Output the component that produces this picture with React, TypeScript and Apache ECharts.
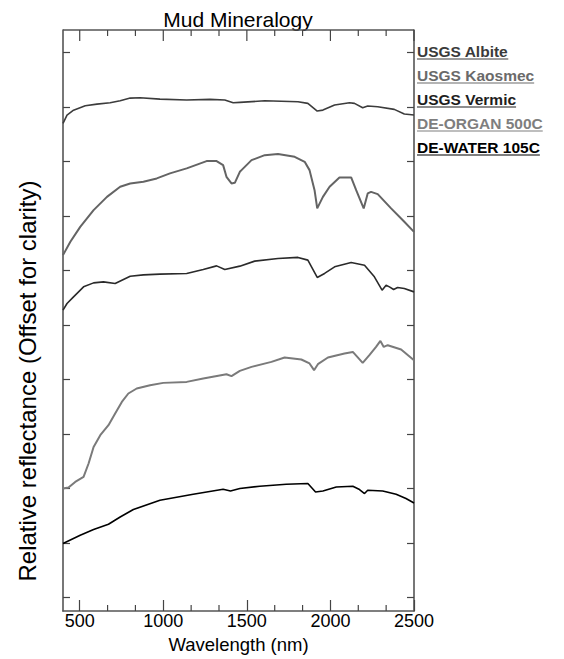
import React, { useEffect, useRef } from "react";
import * as echarts from "echarts";

const FONT = "'Liberation Sans', Arial, Helvetica, sans-serif";

const TITLE = "Mud Mineralogy";
const X_LABEL = "Wavelength (nm)";
const Y_LABEL = "Relative reflectance (Offset for clarity)";

const X_MIN = 400;
const X_MAX = 2500;
const X_TICKS = [500, 1000, 1500, 2000, 2500];
const X_MINOR_TICKS = [666.67, 833.33, 1166.67, 1333.33, 1666.67, 1833.33, 2166.67, 2333.33];
const Y_MIN = -0.246;
const Y_MAX = 10.41;
const Y_TICKS = [0, 1, 2, 3, 4, 5, 6, 7, 8, 9, 10];

const SERIES_NAMES = ["USGS Albite", "USGS Kaosmec", "USGS Vermic", "DE-ORGAN 500C", "DE-WATER 105C"];
const LINE_COLORS = ["#3c3c3c", "#646464", "#2a2a2a", "#7a7a7a", "#000000"];
const LEGEND_COLORS = ["#3a3a3a", "#6a6a6a", "#1e1e1e", "#7e7e7e", "#000000"];

// USGS Albite (offset spectrum)
const albiteWl = [400, 424, 463, 533, 603, 682, 742, 802, 861, 980, 1140, 1279, 1368, 1418, 1458, 1607, 1806, 1865, 1921, 1955, 2025, 2114, 2144, 2193, 2223, 2283, 2382, 2442, 2500];
const albiteR = [8.697, 8.848, 8.939, 9.02, 9.051, 9.075, 9.112, 9.161, 9.167, 9.143, 9.125, 9.138, 9.125, 9.075, 9.083, 9.112, 9.094, 9.064, 8.923, 8.941, 9.033, 9.075, 9.064, 8.983, 9.015, 9.002, 8.954, 8.868, 8.85];

// USGS Kaosmec
const kaosmecWl = [400, 444, 503, 583, 663, 742, 802, 881, 961, 1040, 1140, 1259, 1319, 1358, 1378, 1408, 1428, 1458, 1468, 1528, 1607, 1686, 1786, 1846, 1875, 1905, 1921, 1955, 1995, 2054, 2124, 2154, 2199, 2223, 2243, 2283, 2363, 2442, 2500];
const kaosmecR = [6.281, 6.525, 6.8, 7.106, 7.35, 7.534, 7.596, 7.626, 7.688, 7.78, 7.872, 8.006, 8.006, 7.932, 7.717, 7.596, 7.607, 7.809, 7.84, 8.023, 8.115, 8.134, 8.084, 7.993, 7.84, 7.473, 7.138, 7.35, 7.534, 7.706, 7.706, 7.473, 7.138, 7.413, 7.442, 7.4, 7.138, 6.892, 6.708];

// USGS Vermic
const vermicWl = [400, 424, 463, 523, 583, 642, 712, 802, 881, 980, 1140, 1239, 1319, 1368, 1458, 1547, 1686, 1806, 1865, 1921, 1965, 2025, 2124, 2204, 2263, 2309, 2333, 2353, 2378, 2402, 2442, 2500];
const vermicR = [5.272, 5.394, 5.516, 5.699, 5.772, 5.791, 5.761, 5.895, 5.919, 5.932, 5.945, 6.018, 6.084, 6.018, 6.079, 6.171, 6.22, 6.239, 6.189, 5.872, 5.945, 6.066, 6.147, 6.097, 5.883, 5.639, 5.73, 5.699, 5.651, 5.688, 5.67, 5.607];

// DE-ORGAN 500C
const organWl = [400, 433, 473, 523, 553, 583, 623, 672, 712, 752, 791, 841, 921, 1000, 1140, 1239, 1378, 1408, 1458, 1528, 1647, 1726, 1826, 1875, 1902, 1925, 1985, 2084, 2134, 2193, 2233, 2273, 2299, 2319, 2343, 2423, 2500];
const organR = [2.0, 2.018, 2.121, 2.213, 2.459, 2.763, 2.978, 3.161, 3.376, 3.589, 3.743, 3.835, 3.895, 3.938, 3.956, 4.018, 4.097, 4.061, 4.158, 4.231, 4.323, 4.404, 4.367, 4.294, 4.171, 4.281, 4.404, 4.477, 4.506, 4.305, 4.446, 4.598, 4.708, 4.598, 4.629, 4.55, 4.354];

// DE-WATER 105C
const waterWl = [400, 503, 583, 672, 742, 821, 980, 1179, 1358, 1402, 1458, 1577, 1736, 1865, 1911, 1955, 2035, 2134, 2174, 2204, 2223, 2313, 2393, 2452, 2500];
const waterR = [0.991, 1.143, 1.248, 1.345, 1.479, 1.615, 1.785, 1.895, 1.987, 1.956, 2.0, 2.042, 2.079, 2.092, 1.938, 1.956, 2.029, 2.042, 1.982, 1.908, 1.969, 1.956, 1.895, 1.817, 1.736];

const SERIES_WL = [albiteWl, kaosmecWl, vermicWl, organWl, waterWl];
const SERIES_R = [albiteR, kaosmecR, vermicR, organR, waterR];

function measure(text: string, font: string): number {
  const c = document.createElement("canvas").getContext("2d");
  if (!c) return text.length * 8;
  c.font = font;
  return c.measureText(text).width;
}

export default function App() {
  const ref = useRef<HTMLDivElement>(null);
  useEffect(() => {
    if (!ref.current) return;
    const chart = echarts.init(ref.current, undefined, { renderer: "svg" });
    const lineCol = "#555";
    const tickCol = "#444";
    const legendFont = `bold 15.5px ${FONT}`;
    const legendGraphics: any[] = [];
    SERIES_NAMES.forEach((name, i) => {
      const cy = 51.5 + i * 24;
      const w = measure(name, legendFont);
      legendGraphics.push({
        type: "text",
        x: 417,
        y: cy,
        style: {
          text: name,
          fill: LEGEND_COLORS[i],
          fontSize: 15.5,
          fontWeight: "bold",
          fontFamily: FONT,
          align: "left",
          verticalAlign: "middle",
        },
      });
      legendGraphics.push({
        type: "line",
        shape: { x1: 417, y1: cy + 7.5, x2: 417 + w, y2: cy + 7.5 },
        style: { stroke: LEGEND_COLORS[i], lineWidth: 1.2 },
      });
    });
    const yCommon = () => ({
      type: "value",
      min: Y_MIN,
      max: Y_MAX,
      axisLine: { show: true, onZero: false, lineStyle: { color: lineCol, width: 1.6 } },
      axisTick: { show: true, inside: true, length: 7, customValues: Y_TICKS.slice(), lineStyle: { color: tickCol, width: 1.2 } },
      axisLabel: { show: false },
      splitLine: { show: false },
    });
    // frame top edge + top major ticks + minor ticks (top and bottom), placed through the axes' scales
    const frameData: number[][] = [[X_MIN, 0]];
    X_TICKS.forEach((v) => frameData.push([v, 1]));
    X_MINOR_TICKS.forEach((v) => frameData.push([v, 2]));
    chart.setOption({
      animation: false,
      backgroundColor: "#fff",
      grid: { left: 63, right: 150, top: 30, bottom: 48 },
      xAxis: [
        {
          type: "value",
          position: "bottom",
          min: X_MIN,
          max: X_MAX,
          name: X_LABEL,
          nameLocation: "middle",
          nameGap: 16,
          nameTextStyle: { fontSize: 18.5, color: "#000", fontFamily: FONT },
          axisLine: { show: true, onZero: false, lineStyle: { color: lineCol, width: 1.6 } },
          axisTick: { show: true, inside: true, length: 11, customValues: X_TICKS.slice(), lineStyle: { color: tickCol, width: 1.2 } },
          axisLabel: {
            show: true,
            customValues: X_TICKS.slice(),
            margin: 1,
            fontSize: 18,
            color: "#000",
            fontFamily: FONT,
            formatter: (v: number) => String(Math.round(v)),
          },
          splitLine: { show: false },
        },
      ],
      yAxis: [
        { ...yCommon(), position: "left" },
        { ...yCommon(), position: "right" },
      ],
      series: [
        ...SERIES_NAMES.map((name, i) => ({
          name,
          type: "line",
          xAxisIndex: 0,
          yAxisIndex: 0,
          showSymbol: false,
          symbol: "none",
          smooth: false,
          data: SERIES_WL[i].map((w, j) => [w, SERIES_R[i][j]]),
          lineStyle: { color: LINE_COLORS[i], width: i === 1 || i === 3 ? 2 : 1.6 },
        })),
        {
          type: "custom",
          name: "frame",
          silent: true,
          xAxisIndex: 0,
          yAxisIndex: 0,
          data: frameData,
          renderItem: (params: any, api: any) => {
            const x = api.value(0);
            const kind = api.value(1);
            if (kind === 0) {
              const a = api.coord([X_MIN, Y_MAX]);
              const b = api.coord([X_MAX, Y_MAX]);
              return {
                type: "line",
                shape: { x1: a[0], y1: a[1], x2: b[0], y2: b[1] },
                style: { stroke: lineCol, lineWidth: 1.6 },
              };
            }
            const top = api.coord([x, Y_MAX]);
            const bot = api.coord([x, Y_MIN]);
            if (kind === 1) {
              return {
                type: "line",
                shape: { x1: top[0], y1: top[1], x2: top[0], y2: top[1] + 11 },
                style: { stroke: tickCol, lineWidth: 1.2 },
              };
            }
            return {
              type: "group",
              children: [
                { type: "line", shape: { x1: top[0], y1: top[1], x2: top[0], y2: top[1] + 6 }, style: { stroke: tickCol, lineWidth: 1.2 } },
                { type: "line", shape: { x1: bot[0], y1: bot[1], x2: bot[0], y2: bot[1] - 6 }, style: { stroke: tickCol, lineWidth: 1.2 } },
              ],
            };
          },
        },
      ],
      graphic: [
        {
          type: "text",
          x: 238,
          y: 19,
          style: { text: TITLE, fill: "#000", fontSize: 21, fontFamily: FONT, align: "center", verticalAlign: "middle" },
        },
        {
          type: "text",
          x: 27,
          y: 381,
          rotation: Math.PI / 2,
          style: { text: Y_LABEL, fill: "#000", fontSize: 24, fontFamily: FONT, align: "center", verticalAlign: "middle" },
        },
        ...legendGraphics,
      ],
    });
    return () => chart.dispose();
  }, []);
  return (
    <div style={{ position: "fixed", left: 0, top: 0, width: 564, height: 659, background: "#fff" }}>
      <div ref={ref} style={{ width: 564, height: 659 }} />
    </div>
  );
}
